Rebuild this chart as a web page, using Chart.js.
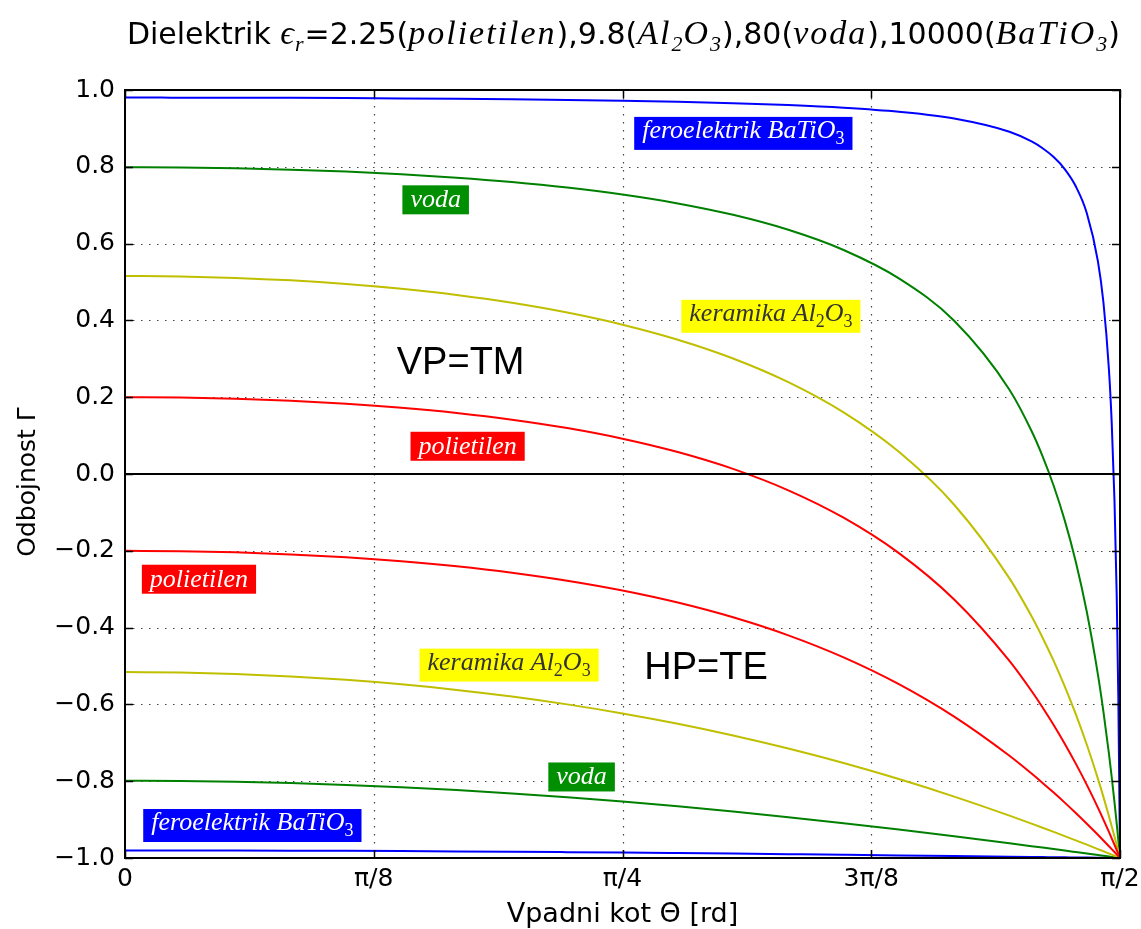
<!DOCTYPE html>
<html><head><meta charset="utf-8">
<script src="https://cdn.jsdelivr.net/npm/chart.js@4.4.0/dist/chart.umd.min.js"></script>
<style>html,body{margin:0;padding:0;background:#fff}canvas{display:block}</style>
</head><body>
<canvas id="c" width="1141" height="929"></canvas>
<script>
// Incidence angle in degrees (axis shows radians 0..π/2)
const angles = [0,5,10,15,20,25,30,35,40,45,50,55,60,65,70,75,80,82,83,84,85,86,87,88,88.5,89,89.25,89.5,89.7,89.85,90];

// VP = TM reflection coefficients
const polyTM = [0.2,0.19898,0.19589,0.19060,0.18290,0.17248,0.15890,0.14155,0.11962,0.09201,0.05725,0.01334,-0.04245,-0.11385,-0.20613,-0.32675,-0.48663,-0.56503,-0.60796,-0.65365,-0.70231,-0.75421,-0.80959,-0.86880,-0.89992,-0.93214,-0.94867,-0.96548,-0.97915,-0.98952,-1];
const alTM = [0.51580,0.51454,0.51072,0.50424,0.49487,0.48232,0.46615,0.44575,0.42034,0.38881,0.34967,0.30080,0.23920,0.16044,0.05770,-0.08003,-0.27171,-0.37056,-0.42626,-0.48687,-0.55302,-0.62549,-0.70520,-0.79326,-0.84080,-0.89098,-0.91710,-0.94396,-0.96599,-0.98285,-1];
const vodaTM = [0.79888,0.79820,0.79613,0.79260,0.78748,0.78058,0.77164,0.76024,0.74585,0.72769,0.70460,0.67490,0.63591,0.58330,0.50934,0.39914,0.21957,0.11209,0.04617,-0.03051,-0.12078,-0.22860,-0.35954,-0.52193,-0.61860,-0.72849,-0.78920,-0.85435,-0.90999,-0.95396,-1];
const batTM = [0.98020,0.98012,0.97990,0.97951,0.97894,0.97817,0.97717,0.97588,0.97423,0.97211,0.96936,0.96573,0.96078,0.95377,0.94319,0.92560,0.89110,0.86592,0.84834,0.82537,0.79415,0.74925,0.67918,0.55457,0.44721,0.27146,0.13382,-0.06798,-0.31268,-0.58504,-1];

// HP = TE reflection coefficients
const polyTE = [-0.2,-0.20102,-0.20410,-0.20937,-0.21698,-0.22721,-0.24040,-0.25706,-0.27778,-0.30334,-0.33473,-0.37319,-0.42020,-0.47756,-0.54735,-0.63194,-0.73389,-0.78012,-0.80447,-0.82968,-0.85577,-0.88275,-0.91065,-0.93949,-0.95425,-0.96926,-0.97686,-0.98451,-0.99068,-0.99533,-1];
const alTE = [-0.51580,-0.51705,-0.52083,-0.52717,-0.53612,-0.54777,-0.56221,-0.57956,-0.59996,-0.62355,-0.65048,-0.68090,-0.71496,-0.75278,-0.79447,-0.84007,-0.88958,-0.91047,-0.92114,-0.93197,-0.94294,-0.95406,-0.96533,-0.97675,-0.98250,-0.98830,-0.99121,-0.99413,-0.99648,-0.99824,-1];
const vodaTE = [-0.79888,-0.79956,-0.80160,-0.80499,-0.80973,-0.81580,-0.82319,-0.83188,-0.84184,-0.85304,-0.86544,-0.87899,-0.89364,-0.90932,-0.92595,-0.94343,-0.96168,-0.96918,-0.97295,-0.97675,-0.98058,-0.98443,-0.98829,-0.99218,-0.99413,-0.99608,-0.99706,-0.99804,-0.99882,-0.99941,-1];
const batTE = [-0.98020,-0.98027,-0.98050,-0.98087,-0.98138,-0.98204,-0.98283,-0.98375,-0.98480,-0.98596,-0.98723,-0.98859,-0.99005,-0.99158,-0.99318,-0.99484,-0.99653,-0.99722,-0.99757,-0.99791,-0.99826,-0.99861,-0.99895,-0.99930,-0.99948,-0.99965,-0.99974,-0.99983,-0.99990,-0.99995,-1];

// zero reference line
const zeroX = [0, 90];
const zeroY = [0, 0];

// ticks
const xTickValues = [0, 22.5, 45, 67.5, 90];
const xTickLabels = ['0', 'π/8', 'π/4', '3π/8', 'π/2'];
const yTickValues = [-1, -0.8, -0.6, -0.4, -0.2, 0, 0.2, 0.4, 0.6, 0.8, 1];
const yTickLabels = ['−1.0','−0.8','−0.6','−0.4','−0.2','0.0','0.2','0.4','0.6','0.8','1.0'];

// annotation texts
const noteTexts = [
  [['feroelektrik BaTiO',0],['3',1]],
  [['voda',0]],
  [['keramika Al',0],['2',1],['O',0],['3',1]],
  [['polietilen',0]],
  [['polietilen',0]],
  [['keramika Al',0],['2',1],['O',0],['3',1]],
  [['voda',0]],
  [['feroelektrik BaTiO',0],['3',1]]
];
const notePos = [[55.93,0.887],[28.1,0.714],[58.42,0.4106],[30.99,0.0722],[6.69,-0.274],[34.74,-0.4977],[41.3,-0.789],[11.52,-0.9154]];
const noteBg = ['#0000ff','#008f00','#ffff00','#ff0000','#ff0000','#ffff00','#008f00','#0000ff'];
const noteFg = ['#ffffff','#ffffff','#333333','#ffffff','#ffffff','#333333','#ffffff','#ffffff'];
const bigTexts = ['VP=TM', 'HP=TE'];
const bigPos = [[30.36, 0.291], [52.55, -0.503]];

const toPts = (ys) => angles.map((a, i) => ({x: a, y: ys[i]}));
const mk = (label, ys, color) => ({label, data: toPts(ys), borderColor: color, borderWidth: 2, pointRadius: 0, fill: false, cubicInterpolationMode: 'monotone'});

const datasets = [
  {label: 'zero', data: zeroX.map((x, i) => ({x, y: zeroY[i]})), borderColor: '#000', borderWidth: 2, pointRadius: 0},
  mk('polietilen TM', polyTM, '#ff0000'),
  mk('Al2O3 TM', alTM, '#bfbf00'),
  mk('voda TM', vodaTM, '#008000'),
  mk('BaTiO3 TM', batTM, '#0000ff'),
  mk('polietilen TE', polyTE, '#ff0000'),
  mk('Al2O3 TE', alTE, '#bfbf00'),
  mk('voda TE', vodaTE, '#008000'),
  mk('BaTiO3 TE', batTE, '#0000ff')
];

function drawParts(ctx, parts, x, y, font, subFont, subShift) {
  let cx = x;
  for (const [t, s] of parts) {
    ctx.font = s ? subFont : font;
    ctx.fillText(t, cx, y + (s ? subShift : 0));
    cx += ctx.measureText(t).width;
  }
  return cx - x;
}
function measureParts(ctx, parts, font, subFont) {
  let w = 0;
  for (const [t, s] of parts) { ctx.font = s ? subFont : font; w += ctx.measureText(t).width; }
  return w;
}

const gridPlugin = {
  id: 'gridPlugin',
  beforeDatasetsDraw(chart) {
    const {ctx, chartArea: a, scales: {x, y}} = chart;
    ctx.save();
    ctx.strokeStyle = '#444';
    ctx.lineWidth = 1.2;
    ctx.setLineDash([1.5, 6.5]);
    xTickValues.forEach(v => {
      const px = Math.round(x.getPixelForValue(v)) + 0.5;
      if (v === 0 || v === 90) return;
      ctx.beginPath(); ctx.moveTo(px, a.top); ctx.lineTo(px, a.bottom); ctx.stroke();
    });
    yTickValues.forEach(v => {
      if (v === -1 || v === 1 || v === 0) return;
      const py = Math.round(y.getPixelForValue(v)) + 0.5;
      ctx.beginPath(); ctx.moveTo(a.left, py); ctx.lineTo(a.right, py); ctx.stroke();
    });
    ctx.restore();
  },
  afterDatasetsDraw(chart) {
    const {ctx, chartArea: a, scales: {x, y}} = chart;
    ctx.save();
    ctx.strokeStyle = '#000'; ctx.lineWidth = 1.5; ctx.setLineDash([]);
    xTickValues.forEach(v => {
      const px = Math.round(x.getPixelForValue(v)) + 0.5;
      ctx.beginPath(); ctx.moveTo(px, a.bottom); ctx.lineTo(px, a.bottom - 8); ctx.stroke();
      ctx.beginPath(); ctx.moveTo(px, a.top); ctx.lineTo(px, a.top + 8); ctx.stroke();
    });
    yTickValues.forEach(v => {
      const py = Math.round(y.getPixelForValue(v)) + 0.5;
      ctx.beginPath(); ctx.moveTo(a.left, py); ctx.lineTo(a.left + 8, py); ctx.stroke();
      ctx.beginPath(); ctx.moveTo(a.right, py); ctx.lineTo(a.right - 8, py); ctx.stroke();
    });
    ctx.lineWidth = 2;
    ctx.strokeRect(a.left, a.top, a.right - a.left, a.bottom - a.top);

    const font = 'italic 26px "Liberation Serif"';
    const subFont = '18px "Liberation Serif"';
    ctx.textBaseline = 'alphabetic';
    ctx.textAlign = 'left';
    noteTexts.forEach((parts, i) => {
      const cx = x.getPixelForValue(notePos[i][0]);
      const cy = y.getPixelForValue(notePos[i][1]);
      const hasSub = parts.some(p => p[1]);
      const w = measureParts(ctx, parts, font, subFont);
      const bw = w + 16;
      const bh = hasSub ? 33 : 29;
      ctx.fillStyle = noteBg[i];
      ctx.fillRect(cx - bw / 2, cy - bh / 2, bw, bh);
      ctx.fillStyle = noteFg[i];
      drawParts(ctx, parts, cx - w / 2, cy + (hasSub ? 4.5 : 7.5), font, subFont, 6);
    });
    ctx.fillStyle = '#000';
    ctx.font = '38px "Liberation Sans"';
    ctx.textAlign = 'center';
    ctx.textBaseline = 'middle';
    bigTexts.forEach((t, i) => {
      ctx.fillText(t, x.getPixelForValue(bigPos[i][0]), y.getPixelForValue(bigPos[i][1]) + 1);
    });
    ctx.restore();
  },
  afterDraw(chart) {
    const {ctx, chartArea: a} = chart;
    ctx.save();
    ctx.fillStyle = '#000';
    const N = '30px "DejaVu Sans"', M = 'italic 34px "Liberation Serif"', S = 'italic 22px "Liberation Serif"';
    const parts = [
      ['Dielektrik ', N, 0, 0], ['ϵ', M, 0, 1], ['r', S, 7, 1], ['=2.25(', N, 0, 0], ['polietilen', M, 0, 2], ['),9.8(', N, 0, 0],
      ['Al', M, 0, 2], ['2', S, 7, 1], ['O', M, 0, 2], ['3', S, 7, 1], ['),80(', N, 0, 0], ['voda', M, 0, 2], ['),10000(', N, 0, 0],
      ['BaTiO', M, 0, 2], ['3', S, 7, 1], [')', N, 0, 0]
    ];
    const widthOf = (p) => { ctx.font = p[1]; return ctx.measureText(p[0]).width + p[3] * p[0].length; };
    let total = 0;
    parts.forEach(p => { total += widthOf(p); });
    let cx = (a.left + a.right) / 2 - total / 2;
    const base = 44;
    ctx.textBaseline = 'alphabetic'; ctx.textAlign = 'left';
    parts.forEach(p => {
      ctx.font = p[1];
      let lx = cx;
      for (const ch of p[0]) {
        ctx.fillText(ch, lx, base + p[2]);
        lx += ctx.measureText(ch).width + p[3];
      }
      cx = lx;
    });
    ctx.textAlign = 'center'; ctx.textBaseline = 'middle';
    ctx.font = '27px "DejaVu Sans"';
    ctx.fillText('Vpadni kot Θ [rd]', (a.left + a.right) / 2, 915);
    ctx.font = '25px "DejaVu Sans"';
    ctx.save();
    ctx.translate(28, (a.top + a.bottom) / 2 + 8);
    ctx.rotate(-Math.PI / 2);
    ctx.fillText('Odbojnost Γ', 0, 0);
    ctx.restore();
    ctx.restore();
  }
};

new Chart(document.getElementById('c'), {
  type: 'line',
  data: {datasets},
  options: {
    responsive: false,
    animation: false,
    events: [],
    layout: {padding: {top: 90, right: 21, left: 0, bottom: 0}},
    plugins: {legend: {display: false}, tooltip: {enabled: false}, title: {display: false}},
    scales: {
      x: {
        type: 'linear', min: 0, max: 90,
        afterBuildTicks: (s) => { s.ticks = xTickValues.map(v => ({value: v})); },
        afterFit: (s) => { s.height = 71; s.paddingLeft = 0; s.paddingRight = 0; },
        ticks: {color: '#000', font: {family: 'DejaVu Sans', size: 25}, padding: 6, maxRotation: 0,
          callback: (v, i) => xTickLabels[i]},
        grid: {display: false, drawTicks: false},
        border: {display: false}
      },
      y: {
        type: 'linear', min: -1, max: 1,
        afterBuildTicks: (s) => { s.ticks = yTickValues.map(v => ({value: v})); },
        afterFit: (s) => { s.width = 125; s.paddingTop = 0; s.paddingBottom = 0; },
        ticks: {color: '#000', font: {family: 'DejaVu Sans', size: 25}, padding: 10,
          callback: (v, i) => yTickLabels[i]},
        grid: {display: false, drawTicks: false},
        border: {display: false}
      }
    }
  },
  plugins: [gridPlugin]
});
</script>
</body></html>
